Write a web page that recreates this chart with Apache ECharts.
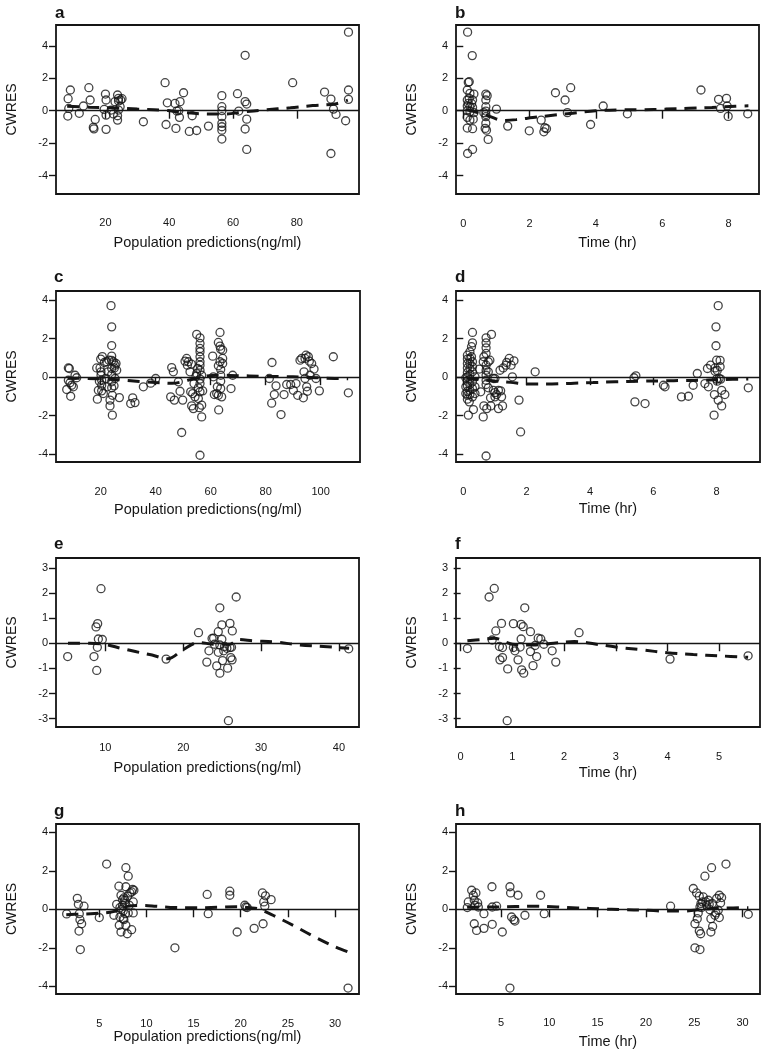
<!DOCTYPE html>
<html>
<head>
<meta charset="utf-8">
<script src="https://cdn.jsdelivr.net/npm/echarts@6/dist/echarts.min.js"></script>
<style>html,body{margin:0;padding:0;background:#fff}#chart{width:761px;height:1050px}</style>
</head>
<body>
<div id="chart"></div>
<script>
// ---------------- DATA ----------------
const aPoints = [[8.2,-0.33],[8.3,0.74],[9.0,1.28],[8.5,0.14],[11.8,-0.16],[13.1,0.29],[14.8,1.42],[15.2,0.66],[16.2,-1.03],[16.4,-1.12],[16.8,-0.54],[20.0,1.03],[20.2,0.66],[20.2,-1.15],[19.6,0.08],[20.2,-0.27],[21.8,0.04],[22.5,-0.2],[23.8,0.97],[23.8,-0.58],[23.8,-0.31],[24.1,0.6],[24.1,0.76],[24.6,0.25],[24.8,0.66],[25.2,0.74],[23.0,0.56],[24.1,0.04],[31.9,-0.68],[38.7,1.73],[39.0,-0.85],[39.4,0.49],[41.8,0.45],[42.1,-1.09],[42.4,-0.02],[43.0,0.0],[43.4,0.56],[43.2,-0.41],[44.5,1.11],[46.3,-1.28],[47.2,-0.31],[48.6,-1.22],[52.3,-0.95],[56.5,0.93],[56.5,0.25],[56.5,0.0],[56.5,-0.37],[56.5,-0.78],[56.5,-0.99],[56.5,-1.2],[56.5,-1.75],[61.4,1.05],[61.8,-0.02],[63.8,3.42],[63.8,0.56],[64.3,0.41],[63.8,-1.13],[64.3,-0.52],[64.3,-2.39],[78.7,1.73],[88.7,1.15],[90.7,0.72],[90.7,-2.64],[91.5,0.1],[92.3,-0.23],[95.3,-0.62],[96.2,4.85],[96.2,1.28],[96.2,0.7]];
const aSmooth = [[8,0.28],[15,0.22],[22,0.18],[30,0.1],[38,0.03],[45,-0.12],[52,-0.2],[58,-0.2],[63,-0.08],[70,0.05],[78,0.18],[85,0.32],[92,0.42],[96,0.65]];

const bPoints = [[0.13,4.85],[0.27,3.4],[0.15,1.75],[0.18,1.79],[0.12,1.28],[0.2,1.07],[0.32,1.03],[0.12,0.66],[0.18,0.76],[0.28,0.66],[0.12,0.29],[0.2,0.25],[0.28,0.21],[0.12,0.0],[0.2,-0.06],[0.32,-0.12],[0.12,-0.41],[0.2,-0.58],[0.3,-0.52],[0.12,-1.07],[0.28,-1.11],[0.13,-2.64],[0.28,-2.39],[0.15,0.45],[0.25,0.45],[0.68,1.03],[0.72,0.93],[0.68,0.66],[0.68,0.25],[0.68,-0.02],[0.68,-0.23],[0.68,-0.37],[0.68,-0.78],[0.66,-1.09],[0.7,-1.2],[0.75,-1.77],[0.62,-0.12],[1.0,0.1],[1.34,-0.95],[1.99,-1.24],[2.35,-0.58],[2.43,-1.3],[2.46,-1.05],[2.51,-1.11],[2.78,1.11],[3.07,0.66],[3.14,-0.12],[3.24,1.42],[3.84,-0.85],[4.22,0.29],[4.95,-0.19],[7.17,1.28],[7.7,0.7],[7.76,0.14],[7.94,0.76],[7.96,0.29],[7.99,-0.35],[8.58,-0.19]];
const bSmooth = [[0.1,0.05],[0.4,-0.1],[0.8,-0.35],[1.2,-0.6],[1.6,-0.55],[2.1,-0.42],[2.7,-0.28],[3.3,-0.15],[4.0,0.0],[4.7,0.05],[5.4,0.06],[6.1,0.1],[6.8,0.15],[7.5,0.2],[8.2,0.28],[8.6,0.3]];

const cPoints = [[8.24,0.48],[8.6,0.45],[7.64,-0.64],[9.09,-0.99],[8.85,-0.29],[9.45,-0.42],[10.06,-0.5],[10.67,0.1],[11.27,-0.03],[8.24,-0.16],[18.55,0.48],[18.79,-1.14],[19.15,-0.68],[19.52,-0.21],[20.0,0.94],[20.6,1.07],[20.12,0.28],[20.12,0.1],[19.76,0.48],[20.36,-0.16],[20.36,-0.42],[20.36,-0.71],[20.97,-0.85],[21.33,0.76],[22.18,0.8],[21.94,-0.07],[22.42,-0.5],[22.67,0.28],[23.03,0.88],[23.39,-1.49],[23.39,-1.19],[23.76,3.71],[24.0,2.61],[24.0,1.64],[24.0,1.09],[24.0,0.87],[24.0,0.45],[24.0,0.14],[24.0,-0.24],[24.0,-0.55],[24.24,-0.94],[24.24,-1.97],[24.61,0.8],[24.97,0.48],[25.21,-0.07],[25.21,0.62],[25.58,0.71],[25.82,0.36],[24.85,-0.45],[26.79,-1.06],[30.91,-1.37],[31.64,-1.07],[32.48,-1.32],[35.52,-0.5],[38.18,-0.31],[40.0,-0.07],[45.82,0.5],[46.42,0.28],[45.45,-1.02],[46.79,-1.19],[48.24,-0.24],[48.85,-0.73],[49.45,-2.87],[49.82,-1.19],[50.67,0.83],[51.27,0.97],[51.88,0.8],[51.52,0.62],[52.48,0.28],[52.97,0.68],[52.73,-0.76],[53.09,-1.49],[53.7,-1.63],[53.45,-0.85],[53.94,-0.33],[54.3,-1.02],[54.67,0.05],[54.91,2.22],[56.12,2.04],[54.91,0.19],[55.52,-0.55],[55.52,-1.11],[55.88,-1.58],[56.12,-4.05],[56.12,1.75],[56.12,1.49],[56.12,1.32],[56.12,1.06],[56.12,0.8],[56.12,0.62],[56.12,0.36],[56.12,-0.1],[56.12,-0.33],[56.12,-0.76],[56.73,-1.45],[56.73,-2.06],[57.09,-0.71],[56.73,0.1],[55.27,0.45],[60.73,1.09],[60.97,0.02],[61.33,-0.9],[62.18,-0.85],[62.42,-0.5],[62.79,0.59],[62.79,1.8],[62.91,-1.7],[63.39,2.32],[63.39,1.61],[63.64,1.45],[63.39,0.8],[63.64,0.4],[63.64,0.1],[63.64,-0.21],[63.64,-0.59],[64.0,-1.02],[64.36,1.4],[64.36,0.97],[64.36,0.71],[62.79,-0.94],[68.0,0.1],[67.39,-0.59],[81.33,-0.07],[82.3,0.76],[82.18,-1.35],[83.15,-0.9],[83.76,-0.45],[85.58,-1.94],[86.67,-0.9],[87.64,-0.38],[89.09,-0.38],[90.06,-0.68],[91.03,-0.33],[91.64,-0.94],[92.48,0.88],[93.09,0.97],[93.7,-1.07],[93.94,0.28],[94.3,-0.07],[94.3,0.97],[94.67,1.14],[94.91,-0.5],[95.15,-0.73],[95.52,1.06],[95.88,0.83],[96.12,0.1],[96.73,0.71],[97.58,0.42],[98.3,-0.07],[99.52,-0.71],[104.6,1.06],[110.06,-0.81]];
const cSmooth = [[8,-0.05],[15,-0.07],[22,-0.1],[28,-0.15],[34,-0.22],[40,-0.28],[46,-0.32],[52,-0.15],[58,0.05],[64,0.1],[70,0.08],[78,0.05],[86,0.03],[94,0.0],[102,-0.05],[110,-0.08]];

const dPoints = [[0.16,-1.97],[0.29,2.32],[0.29,1.78],[0.26,1.58],[0.21,1.32],[0.13,1.14],[0.13,0.94],[0.13,0.71],[0.13,0.48],[0.13,0.24],[0.13,0.02],[0.13,-0.21],[0.13,-0.45],[0.13,-0.73],[0.13,-0.94],[0.13,-1.14],[0.19,-1.28],[0.21,0.97],[0.21,0.71],[0.21,0.45],[0.21,0.14],[0.21,-0.1],[0.21,-0.38],[0.21,-0.68],[0.21,-0.9],[0.26,1.06],[0.29,0.8],[0.29,0.54],[0.29,0.28],[0.29,-0.24],[0.29,-0.59],[0.29,-1.02],[0.37,0.02],[0.37,-0.5],[0.37,-0.85],[0.32,-1.68],[0.08,-0.03],[0.08,-0.5],[0.08,-0.85],[0.51,0.42],[0.55,-0.76],[0.63,-2.06],[0.72,-4.09],[0.72,2.04],[0.72,1.78],[0.72,1.52],[0.72,1.23],[0.65,1.06],[0.63,0.8],[0.72,0.62],[0.72,0.36],[0.72,0.1],[0.72,-0.16],[0.72,-0.38],[0.65,-1.49],[0.74,-1.63],[0.79,0.8],[0.79,0.28],[0.79,-0.55],[0.84,0.88],[0.86,-1.07],[0.89,2.22],[0.87,-1.49],[0.95,-0.07],[0.95,-0.68],[1.0,-0.8],[1.0,-1.02],[1.05,-0.9],[1.11,-1.63],[1.16,0.36],[1.18,-0.71],[1.21,-1.02],[1.24,-1.49],[1.26,0.48],[1.35,0.62],[1.37,0.76],[1.45,0.97],[1.51,0.62],[1.55,0.02],[1.6,0.85],[1.11,-0.68],[1.0,-0.07],[1.76,-1.19],[1.81,-2.84],[2.27,0.28],[5.39,-0.03],[5.45,0.07],[5.42,-1.28],[5.74,-1.37],[6.32,-0.42],[6.37,-0.5],[6.89,-1.02],[7.11,-0.99],[7.26,-0.42],[7.39,0.19],[7.63,-0.33],[7.71,0.45],[7.74,-0.5],[7.81,0.62],[7.92,-1.97],[7.93,-0.9],[7.95,0.48],[7.95,0.31],[7.98,2.61],[7.98,1.63],[8.0,0.88],[8.0,-0.1],[8.02,-0.21],[8.02,0.35],[8.05,3.71],[8.05,-1.19],[8.08,-0.07],[8.11,0.54],[8.11,0.87],[8.13,-0.1],[8.16,-0.68],[8.16,-1.49],[8.26,-0.9],[9.0,-0.55]];
const dSmooth = [[0.1,-0.05],[0.5,-0.12],[1.0,-0.2],[1.5,-0.27],[2.0,-0.35],[2.8,-0.35],[3.5,-0.31],[4.1,-0.28],[4.8,-0.24],[5.6,-0.21],[6.3,-0.19],[7.0,-0.17],[7.6,-0.16],[8.2,-0.12],[9.0,-0.1]];

const ePoints = [[5.16,-0.53],[8.54,-0.53],[8.8,0.65],[9.01,0.78],[9.1,0.17],[8.97,-0.16],[8.89,-1.08],[9.44,2.17],[9.61,0.15],[17.8,-0.63],[21.96,0.42],[23.03,-0.75],[23.3,-0.3],[23.7,0.19],[23.9,0.2],[24.0,-0.04],[24.3,-0.9],[24.5,0.46],[24.5,-0.36],[24.7,1.41],[24.7,-1.19],[24.96,0.73],[24.96,0.16],[25.05,-0.69],[25.2,-0.3],[25.3,-0.13],[25.6,-0.2],[25.7,-0.99],[25.8,-3.08],[26.0,0.79],[26.0,-0.17],[26.1,-0.57],[26.27,-0.66],[26.3,0.49],[26.2,-0.16],[26.8,1.84],[24.7,-0.07],[41.25,-0.22]];
const eSmooth = [[5.2,0.0],[8,0.0],[10,-0.05],[12,-0.2],[14,-0.34],[16,-0.47],[18,-0.62],[20,-0.25],[22,0.03],[24,-0.04],[26,-0.04],[27,0.15],[29,0.1],[32,0.04],[35,-0.07],[38,-0.13],[41.3,-0.2]];

const fPoints = [[0.13,-0.21],[0.55,1.84],[0.65,2.18],[0.61,0.13],[0.68,0.49],[0.75,-0.13],[0.76,-0.66],[0.79,0.79],[0.81,-0.57],[0.81,-0.17],[0.91,-1.02],[0.9,-3.08],[1.02,0.78],[1.02,-0.17],[1.05,-0.3],[1.11,-0.66],[1.15,-0.15],[1.17,0.17],[1.17,0.75],[1.18,-1.06],[1.21,0.66],[1.22,-1.19],[1.24,1.41],[1.35,0.46],[1.35,-0.33],[1.4,-0.89],[1.44,-0.09],[1.47,-0.53],[1.5,0.2],[1.55,0.17],[1.61,-0.04],[1.77,-0.3],[1.84,-0.75],[2.29,0.42],[4.05,-0.63],[5.56,-0.5]];
const fSmooth = [[0.13,0.1],[0.4,0.15],[0.65,0.2],[1.0,-0.04],[1.4,-0.07],[1.8,0.0],[2.2,0.07],[2.6,-0.03],[3.0,-0.15],[3.5,-0.26],[4.0,-0.38],[4.5,-0.45],[5.0,-0.5],[5.56,-0.56]];

const gPoints = [[1.54,-0.24],[2.67,0.57],[2.78,0.26],[2.88,-0.23],[2.85,-1.13],[2.99,-2.09],[3.13,-0.75],[2.95,-0.54],[3.38,0.16],[5.0,-0.43],[5.78,2.35],[6.55,-0.31],[6.84,0.26],[7.08,1.2],[7.12,-0.83],[7.19,-0.4],[7.3,-1.18],[7.3,0.73],[7.37,0.0],[7.47,0.5],[7.47,0.21],[7.54,-0.09],[7.61,-0.54],[7.61,0.59],[7.72,0.47],[7.75,-0.23],[7.82,1.17],[7.82,2.16],[7.82,-0.83],[7.97,-1.27],[8.0,0.68],[8.07,1.72],[8.07,-0.19],[8.18,0.21],[8.25,0.85],[8.43,-1.06],[8.43,0.9],[8.53,1.03],[8.6,0.38],[8.6,-0.19],[8.67,0.99],[7.19,0.09],[7.72,0.3],[7.54,-0.49],[13.02,-2.0],[16.44,0.77],[16.55,-0.23],[18.84,0.94],[18.84,0.73],[19.62,-1.18],[20.43,0.21],[20.54,0.12],[20.68,0.09],[21.42,-0.99],[22.3,0.85],[22.37,-0.75],[22.44,0.38],[22.55,0.16],[22.62,0.7],[23.22,0.5],[31.38,-4.09]];
const gSmooth = [[1.5,-0.28],[3,-0.25],[4.5,-0.22],[6.5,-0.12],[8,0.15],[9.5,0.2],[11,0.16],[13,0.09],[15,0.08],[17.5,0.1],[19.5,0.13],[21,0.08],[22,0.0],[24,-0.45],[26,-0.95],[28,-1.48],[30,-1.95],[31.4,-2.22]];

const hPoints = [[1.52,0.09],[1.62,0.38],[1.97,0.99],[2.14,0.73],[2.24,0.47],[2.24,-0.75],[2.31,0.21],[2.41,0.85],[2.48,-1.1],[2.59,0.33],[2.66,0.12],[3.24,-0.23],[3.24,-0.99],[4.1,0.12],[4.07,1.17],[4.1,-0.78],[4.55,0.16],[5.14,-1.18],[5.93,1.17],[6.0,0.85],[5.93,-4.09],[6.1,-0.4],[6.34,-0.54],[6.45,-0.61],[6.76,0.73],[7.48,-0.31],[9.1,0.73],[9.48,-0.23],[22.55,0.16],[24.9,1.08],[25.07,-0.75],[25.24,0.85],[25.31,-0.49],[25.52,0.68],[25.52,-1.13],[25.66,-1.27],[25.07,-2.0],[25.59,-2.09],[25.41,-0.19],[25.59,0.12],[25.69,0.3],[25.76,0.09],[25.86,0.38],[25.93,0.64],[26.1,1.72],[26.21,0.38],[26.28,0.21],[26.45,0.47],[26.55,0.26],[26.62,-0.02],[26.72,-0.49],[26.72,-1.18],[26.79,2.16],[26.86,0.3],[26.9,-0.89],[27.14,-0.31],[27.24,-0.19],[27.31,0.56],[27.48,-0.05],[27.59,-0.43],[27.59,0.73],[27.72,0.33],[27.83,0.61],[28.28,2.35],[30.59,-0.26]];
const hSmooth = [[1.5,0.1],[3,0.12],[4.5,0.12],[6.5,0.14],[8.5,0.16],[10.8,0.12],[12.9,0.07],[15.4,0.02],[17.5,-0.02],[20,-0.05],[22,-0.09],[24,-0.09],[26,0.0],[28,0.06],[30.6,0.08]];

// tick labels
const xTicksPredA = [20, 40, 60, 80];
const xTicksTimeB = [0, 2, 4, 6, 8];
const xTicksPredC = [20, 40, 60, 80, 100];
const xTicksTimeD = [0, 2, 4, 6, 8];
const xTicksPredE = [10, 20, 30, 40];
const xTicksTimeF = [0, 1, 2, 3, 4, 5];
const xTicksPredG = [5, 10, 15, 20, 25, 30];
const xTicksTimeH = [5, 10, 15, 20, 25, 30];
const yTicks4 = [-4, -2, 0, 2, 4];
const yTicks3 = [-3, -2, -1, 0, 1, 2, 3];

const panelLetters = ['a','b','c','d','e','f','g','h'];
const xTitlePred = 'Population predictions(ng/ml)';
const xTitleTime = 'Time (hr)';
const yTitle = 'CWRES';

// ---------------- LAYOUT ----------------
const panels = [
  {pts:aPoints, sm:aSmooth, xt:xTicksPredA, yt:yTicks4, xn:xTitlePred, g:[56,25,303,169], xr:[4.5,99.5], yr:[-5.14,5.29], lm:23, ng:41, lt:[55,5]},
  {pts:bPoints, sm:bSmooth, xt:xTicksTimeB, yt:yTicks4, xn:xTitleTime, g:[456,25,303,169], xr:[-0.22,8.92], yr:[-5.14,5.29], lm:24.5, ng:41, lt:[455,5]},
  {pts:cPoints, sm:cSmooth, xt:xTicksPredC, yt:yTicks4, xn:xTitlePred, g:[56,291,304,171], xr:[3.75,114.3], yr:[-4.4,4.47], lm:24, ng:40, lt:[54,269]},
  {pts:dPoints, sm:dSmooth, xt:xTicksTimeD, yt:yTicks4, xn:xTitleTime, g:[456,291,304,171], xr:[-0.23,9.37], yr:[-4.4,4.47], lm:24.5, ng:39, lt:[455,269]},
  {pts:ePoints, sm:eSmooth, xt:xTicksPredE, yt:yTicks3, xn:xTitlePred, g:[56,558,303,169], xr:[3.66,42.57], yr:[-3.33,3.39], lm:15, ng:33, lt:[54,536]},
  {pts:fPoints, sm:fSmooth, xt:xTicksTimeF, yt:yTicks3, xn:xTitleTime, g:[456,558,304,169], xr:[-0.09,5.79], yr:[-3.33,3.39], lm:24, ng:38, lt:[455,536]},
  {pts:gPoints, sm:gSmooth, xt:xTicksPredG, yt:yTicks4, xn:xTitlePred, g:[56,824,303,170], xr:[0.41,32.54], yr:[-4.4,4.43], lm:24, ng:33, lt:[54,803]},
  {pts:hPoints, sm:hSmooth, xt:xTicksTimeH, yt:yTicks4, xn:xTitleTime, g:[456,824,304,170], xr:[0.35,31.8], yr:[-4.4,4.43], lm:23, ng:40, lt:[455,803]}
];

const FONT = '"Liberation Sans", Arial, Helvetica, sans-serif';
const INK = '#151515';

const option = {
  backgroundColor: '#fff',
  animation: false,
  textStyle: {fontFamily: FONT},
  title: [], grid: [], xAxis: [], yAxis: [], series: []
};

panels.forEach((p, i) => {
  option.title.push({text: panelLetters[i], left: p.lt[0], top: p.lt[1], padding: 0,
    textStyle: {fontSize: 17, fontWeight: 'bold', color: INK, fontFamily: FONT}});
  option.grid.push({left: p.g[0], top: p.g[1], width: p.g[2], height: p.g[3], containLabel: false,
    show: true, borderColor: INK, borderWidth: 1.8, backgroundColor: 'transparent'});
  option.xAxis.push({
    type: 'value', gridIndex: i, min: p.xr[0], max: p.xr[1],
    name: p.xn, nameLocation: 'middle', nameGap: p.ng,
    nameTextStyle: {fontSize: 14.5, color: INK, fontFamily: FONT},
    axisLine: {show: false},
    axisTick: {show: true, inside: false, length: 8, customValues: p.xt, lineStyle: {color: INK, width: 1.4}},
    axisLabel: {show: true, customValues: p.xt, margin: p.lm, fontSize: 11, color: INK, fontFamily: FONT},
    splitLine: {show: false}
  });
  option.yAxis.push({
    type: 'value', gridIndex: i, min: p.yr[0], max: p.yr[1],
    name: yTitle, nameLocation: 'middle', nameGap: 37, nameRotate: 90,
    nameTextStyle: {fontSize: 14, color: INK, fontFamily: FONT},
    axisLine: {show: false},
    axisTick: {show: true, inside: false, length: 7, customValues: p.yt, lineStyle: {color: INK, width: 1.4}},
    axisLabel: {show: true, customValues: p.yt, margin: 8, fontSize: 11, color: INK, fontFamily: FONT},
    splitLine: {show: false}
  });
  option.series.push({
    type: 'scatter', xAxisIndex: i, yAxisIndex: i, data: p.pts,
    symbol: 'circle', symbolSize: 8,
    itemStyle: {color: 'rgba(0,0,0,0)', borderColor: INK, borderWidth: 1.3},
    markLine: {silent: true, symbol: ['none','none'], label: {show: false},
      lineStyle: {color: INK, type: 'solid', width: 1.3}, data: [{yAxis: 0}], animation: false}
  });
  option.series.push({
    type: 'line', xAxisIndex: i, yAxisIndex: i, data: p.sm, smooth: 0.35,
    showSymbol: false, symbol: 'none',
    lineStyle: {color: INK, width: 3, type: [12, 8]}
  });
});

const chart = echarts.init(document.getElementById('chart'), null, {renderer: 'canvas'});
chart.setOption(option);
</script>
</body>
</html>
